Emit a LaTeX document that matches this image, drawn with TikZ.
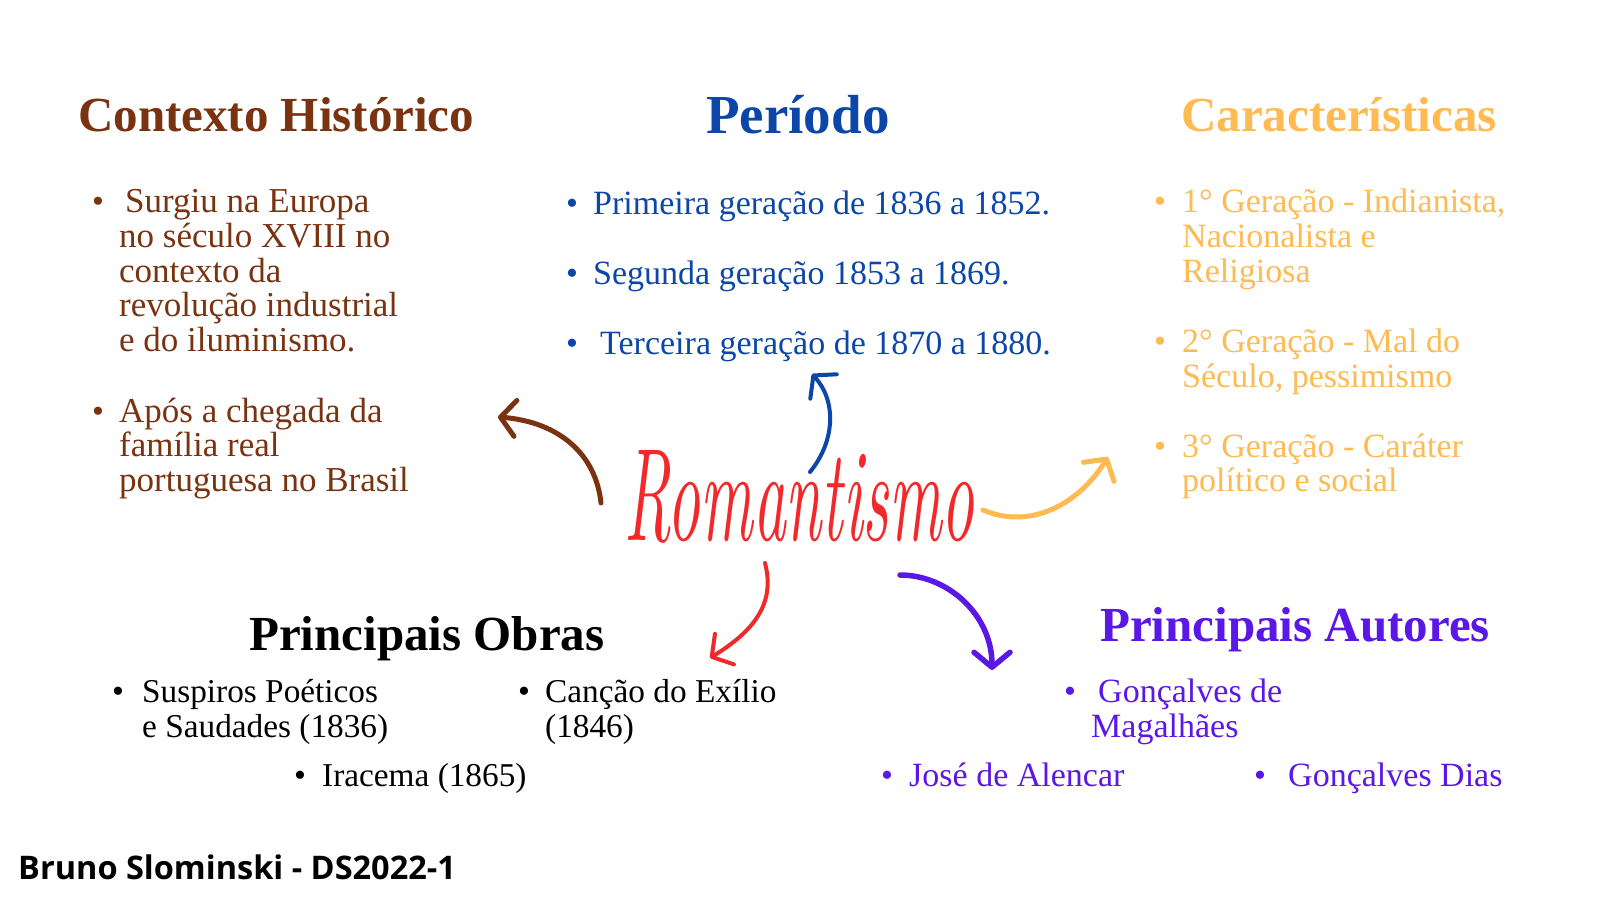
\documentclass[tikz,border=0pt]{standalone}
\usepackage{graphicx}
\usepackage{fontspec}
\setmainfont{Liberation Serif}
\newfontfamily\footfont{Open Sans}
\usetikzlibrary{arrows.meta}
\definecolor{cbrown}{HTML}{7A3311}
\definecolor{cblue}{HTML}{0B46A8}
\definecolor{corange}{HTML}{FFBA52}
\definecolor{cred}{HTML}{F2292B}
\definecolor{cpurple}{HTML}{5A17E6}
\tikzset{
  tx/.style={anchor=base west, inner sep=0pt, font=\fontsize{34}{35}\selectfont},
  txb/.style={tx, font=\fontsize{35}{36}\selectfont},
  txs/.style={tx, font=\fontsize{33.3}{35}\selectfont},
  bul/.style={anchor=base, inner sep=0pt, font=\fontsize{34}{35}\selectfont},
  hd/.style={anchor=base west, inner sep=0pt, font=\fontsize{49}{51}\selectfont\bfseries},
  arr/.style={line width=4.5pt, line cap=round,
    -{Straight Barb[length=15pt,width=36pt,line cap=round,line join=round]}},
}
\begin{document}
\begin{tikzpicture}[x=1pt,y=-1pt]
\useasboundingbox[fill=white] (0,0) rectangle (1600,900);

% ---------- Contexto Historico ----------
\node[hd, text=cbrown] (hctx) at (78,131) {Contexto Histórico};
\begin{scope}[text=cbrown]
\node[bul] (bc1) at (98,212) {•};
\node[txb] (c1a) at (125,212) {Surgiu na Europa};
\node[txb] (c1b) at (119,247) {no século XVIII no};
\node[txb] (c1c) at (119,282) {contexto da};
\node[txb] (c1d) at (119,316) {revolução industrial};
\node[txb] (c1e) at (119,351) {e do iluminismo.};
\node[bul] (bc2) at (98,422) {•};
\node[txb] (c2a) at (119,422) {Após a chegada da};
\node[txb] (c2b) at (119,456) {família real};
\node[txb] (c2c) at (119,491) {portuguesa no Brasil};
\end{scope}

% ---------- Periodo ----------
\node[anchor=base west, inner sep=0pt, text=cblue, font=\fontsize{55}{57}\selectfont\bfseries] (hper) at (706,133) {Período};
\begin{scope}[text=cblue]
\node[bul] (bp1) at (572,214) {•};
\node[tx] (p1) at (593,214) {Primeira geração de 1836 a 1852.};
\node[bul] (bp2) at (572,284) {•};
\node[tx] (p2) at (593,284) {Segunda geração 1853 a 1869.};
\node[bul] (bp3) at (572,354) {•};
\node[tx] (p3) at (600,354) {Terceira geração de 1870 a 1880.};
\end{scope}

% ---------- Caracteristicas ----------
\node[hd, text=corange] (hcar) at (1181,131) {Características};
\begin{scope}[text=corange]
\node[bul] (bk1) at (1160,212) {•};
\node[tx] (k1a) at (1182,212) {1° Geração - Indianista,};
\node[tx] (k1b) at (1182,247) {Nacionalista e};
\node[tx] (k1c) at (1182,282) {Religiosa};
\node[bul] (bk2) at (1160,352) {•};
\node[tx] (k2a) at (1182,352) {2° Geração - Mal do};
\node[tx] (k2b) at (1182,387) {Século, pessimismo};
\node[bul] (bk3) at (1160,457) {•};
\node[tx] (k3a) at (1182,457) {3° Geração - Caráter};
\node[tx] (k3b) at (1182,491) {político e social};
\end{scope}

% ---------- Principais Obras ----------
\node[hd, text=black] (hobr) at (249,650) {Principais Obras};
\node[bul] (bo1) at (118,702) {•};
\node[txs] (o1a) at (142,702) {Suspiros Poéticos};
\node[txs] (o1b) at (142,737) {e Saudades (1836)};
\node[bul] (bo2) at (524,702) {•};
\node[txs] (o2a) at (545,702) {Canção do Exílio};
\node[txs] (o2b) at (545,737) {(1846)};
\node[bul] (bo3) at (300,786) {•};
\node[txs] (o3) at (322,786) {Iracema (1865)};

% ---------- Principais Autores ----------
\node[hd, text=cpurple] (haut) at (1100,641) {Principais Autores};
\begin{scope}[text=cpurple]
\node[bul] (ba1) at (1070,702) {•};
\node[tx] (a1a) at (1098,702) {Gonçalves de};
\node[tx] (a1b) at (1091,737) {Magalhães};
\node[bul] (ba2) at (887,786) {•};
\node[tx] (a2) at (909,786) {José de Alencar};
\node[bul] (ba3) at (1260,786) {•};
\node[tx] (a3) at (1288,786) {Gonçalves Dias};
\end{scope}

% ---------- Centre ----------
\node[anchor=base west, inner sep=0pt, text=cred] (rom) at (624,540)
  {\resizebox{350pt}{90pt}{\fontfamily{lmr}\itshape\selectfont Romantismo}};

% ---------- Footer ----------
\node[anchor=base west, inner sep=0pt, font=\footfont\bfseries\fontsize{32.5}{34}\selectfont] (foot) at (18,879) {Bruno Slominski - DS2022-1};

% ---------- Arrows ----------
\coordinate (brS) at (601,503); \coordinate (brE) at (498,417);
\coordinate (blS) at (810,472); \coordinate (blE) at (812,374);
\coordinate (orS) at (983,510); \coordinate (orE) at (1108,457);
\coordinate (rdS) at (765,563); \coordinate (rdE) at (710,658);
\coordinate (puS) at (900,575); \coordinate (puE) at (992,670);

\draw[arr, cbrown, line width=5pt] (brS) .. controls (596,455) and (560,422) .. (brE);
\draw[arr, cblue, line width=4pt] (blS) .. controls (836,440) and (836,400) .. (blE);
\draw[arr, corange, line width=5pt] (orS) .. controls (1030,530) and (1078,505) .. (orE);
\draw[arr, cred, line width=4pt] (rdS) .. controls (776,605) and (752,632) .. (rdE);
\draw[arr, cpurple, line width=5.5pt] (puS) .. controls (948,575) and (992,615) .. (puE);
\end{tikzpicture}
\end{document}
